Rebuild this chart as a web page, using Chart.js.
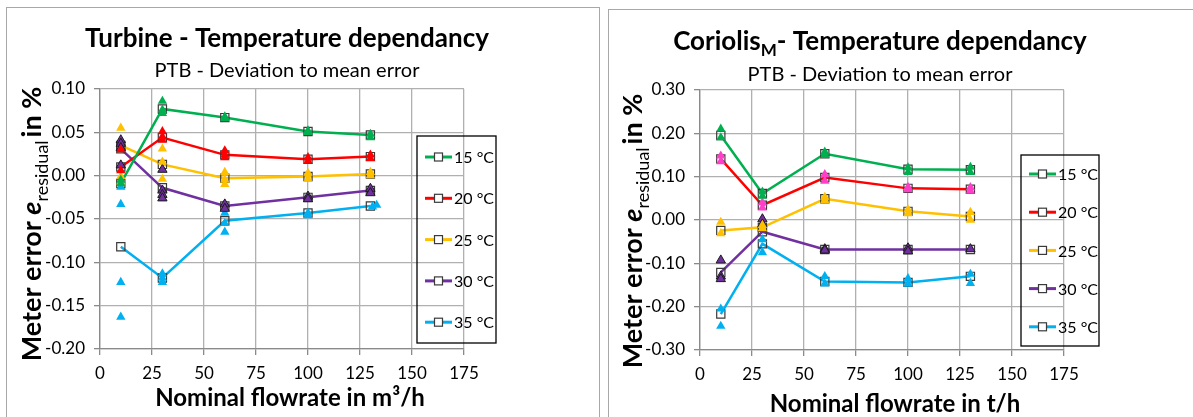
<!DOCTYPE html>
<html>
<head>
<meta charset="utf-8">
<script src="https://cdn.jsdelivr.net/npm/chart.js@4.4.1/dist/chart.umd.min.js"></script>
<style>
  body { margin: 0; background: #fff; width: 1193px; height: 417px; overflow: hidden; position: relative; }
  .panel { position: absolute; border: 1.5px solid #a8a8a8; border-bottom: none; height: 420px; }
  .wrap { position: absolute; }
</style>
</head>
<body>
<div class="panel" style="left:6px; top:7px; width:592px;"></div>
<div class="panel" style="left:608px; top:9px; width:600px;"></div>
<div class="wrap" style="left:8px; top:9px; width:592px; height:408px;"><canvas id="turbineChart"></canvas></div>
<div class="wrap" style="left:610px; top:11px; width:583px; height:406px;"><canvas id="coriolisChart"></canvas></div>
<script>
// flowrates and temperatures
var flowrates = [10, 30, 60, 100, 130];
var tempLabels = ["15 °C", "20 °C", "25 °C", "30 °C", "35 °C"];
var tempColors = ["#00B050", "#FF0000", "#FFC000", "#7030A0", "#00B0F0"];

// turbine - mean deviation per temperature
var turbine15 = [-0.009, 0.077, 0.067, 0.051, 0.047];
var turbine20 = [0.010, 0.044, 0.024, 0.019, 0.022];
var turbine25 = [0.035, 0.013, -0.003, -0.001, 0.002];
var turbine30 = [0.031, -0.014, -0.035, -0.025, -0.017];
var turbine35 = [-0.082, -0.118, -0.052, -0.043, -0.035];

// turbine - single runs [flowrate, deviation]
var turbineRuns15 = [[10, -0.005], [10, -0.009], [30, 0.086], [30, 0.076], [30, 0.072], [60, 0.068], [60, 0.066], [100, 0.052], [100, 0.050], [130, 0.048], [130, 0.044]];
var turbineRuns20 = [[10, 0.030], [10, 0.006], [30, 0.051], [30, 0.045], [30, 0.041], [60, 0.029], [60, 0.024], [60, 0.021], [100, 0.021], [100, 0.017], [130, 0.024], [130, 0.020]];
var turbineRuns25 = [[10, 0.055], [10, -0.001], [10, -0.007], [30, 0.031], [30, 0.016], [30, -0.004], [60, 0.004], [60, -0.005], [60, -0.010], [100, 0.003], [100, -0.004], [130, 0.004], [130, 0.000]];
var turbineRuns30 = [[10, 0.041], [10, 0.037], [10, 0.032], [10, 0.012], [30, 0.007], [30, -0.017], [30, -0.022], [30, -0.026], [60, -0.033], [60, -0.038], [100, -0.024], [100, -0.027], [130, -0.015], [130, -0.020]];
var turbineRuns35 = [[10, -0.013], [10, -0.033], [10, -0.123], [10, -0.163], [30, -0.113], [30, -0.118], [30, -0.123], [60, -0.043], [60, -0.055], [60, -0.065], [100, -0.043], [100, -0.046], [131, -0.036], [133, -0.034]];

// coriolis - mean deviation per temperature
var coriolis15 = [0.195, 0.061, 0.153, 0.117, 0.116];
var coriolis20 = [0.141, 0.034, 0.098, 0.073, 0.071];
var coriolis25 = [-0.024, -0.017, 0.049, 0.020, 0.008];
var coriolis30 = [-0.121, -0.027, -0.068, -0.068, -0.068];
var coriolis35 = [-0.217, -0.055, -0.142, -0.144, -0.130];

// coriolis - single runs [flowrate, deviation]
var coriolisRuns15 = [[10, 0.210], [10, 0.190], [30, 0.065], [30, 0.055], [60, 0.157], [60, 0.150], [100, 0.121], [100, 0.110], [130, 0.122], [130, 0.110]];
var coriolisRuns20 = [[10, 0.148], [10, 0.135], [30, 0.040], [30, 0.028], [60, 0.105], [60, 0.090], [100, 0.076], [100, 0.070], [130, 0.075], [130, 0.067]];
var coriolisRuns25 = [[10, -0.005], [10, -0.031], [30, -0.012], [30, -0.020], [60, 0.053], [60, 0.045], [100, 0.024], [100, 0.015], [130, 0.018], [130, 0.000]];
var coriolisRuns30 = [[10, -0.093], [10, -0.130], [10, -0.136], [30, 0.002], [30, -0.010], [60, -0.067], [60, -0.070], [100, -0.065], [100, -0.072], [130, -0.067]];
var coriolisRuns35 = [[10, -0.205], [10, -0.245], [30, -0.045], [30, -0.075], [60, -0.130], [60, -0.147], [100, -0.135], [100, -0.148], [130, -0.125], [130, -0.146]];

// axes
var xTicks = [0, 25, 50, 75, 100, 125, 150, 175];
var turbineYTicks = [-0.20, -0.15, -0.10, -0.05, 0.00, 0.05, 0.10];
var coriolisYTicks = [-0.30, -0.20, -0.10, 0.00, 0.10, 0.20, 0.30];

var FONT = "Lato";

function toPoints(values){
    return values.map(function(v, i){ return {x: flowrates[i], y: v}; });
}

function runPoints(runs){
    return runs.map(function(r){ return {x: r[0], y: r[1]}; });
}

function buildDatasets(means, runs, runColors){
    var sets = [];
    means.forEach(function(m, i){
        sets.push({
            label: tempLabels[i],
            data: toPoints(m),
            showLine: true,
            borderColor: tempColors[i],
            borderWidth: 2.5,
            pointStyle: "rect",
            pointRadius: 5.8,
            pointBackgroundColor: "rgba(255,255,255,0)",
            pointBorderColor: "#3a3a3a",
            pointBorderWidth: 1.2,
            order: 2,
            isMean: true
        });
    });
    runs.forEach(function(r, i){
        var purple = i == 3;
        sets.push({
            label: tempLabels[i] + " runs",
            data: runPoints(r),
            showLine: false,
            pointStyle: "triangle",
            pointRadius: 5.4,
            pointBackgroundColor: runColors[i],
            pointBorderColor: purple ? "#1a1a1a" : runColors[i],
            pointBorderWidth: purple ? 1 : 0,
            order: 1
        });
    });
    return sets;
}

// draws a row of text parts (with sub-scripts) centred on x
function drawParts(ctx, parts, x, y){
    var total = 0;
    parts.forEach(function(p){ ctx.font = p.font; total += ctx.measureText(p.t).width + (p.gap || 0); });
    var cx = x - total / 2;
    ctx.textAlign = "left";
    ctx.textBaseline = "alphabetic";
    ctx.fillStyle = "#000";
    parts.forEach(function(p){
        ctx.font = p.font;
        ctx.fillText(p.t, cx, y + (p.dy || 0));
        cx += ctx.measureText(p.t).width + (p.gap || 0);
    });
}

var decorPlugin = {
    id: "decor",
    afterDraw: function(chart){
        var o = chart.options.plugins.decor;
        var ctx = chart.ctx;
        ctx.save();
        drawParts(ctx, o.title, o.titleX, o.titleY);
        drawParts(ctx, [{t: "PTB - Deviation to mean error", font: "20px " + FONT}], o.titleX, o.subY);
        drawParts(ctx, [{t: o.xTitle, font: "bold 24px " + FONT}], o.xTitleX, o.xTitleY);

        ctx.save();
        ctx.translate(o.yTitleX, o.yTitleY);
        ctx.rotate(-Math.PI / 2);
        drawParts(ctx, [
            {t: "Meter error ", font: "bold 27px " + FONT},
            {t: "e", font: "italic bold 27px " + FONT},
            {t: "residual", font: "18px " + FONT, dy: 7, gap: 3},
            {t: "in %", font: "bold 27px " + FONT}
        ], 0, 0);
        ctx.restore();

        // legend box
        var L = o.legend;
        ctx.strokeStyle = "#000";
        ctx.lineWidth = 1.3;
        ctx.strokeRect(L.x, L.y, L.w, L.h);
        var means = chart.data.datasets.filter(function(d){ return d.isMean; });
        means.forEach(function(d, i){
            var ry = L.row0 + i * L.step;
            ctx.strokeStyle = d.borderColor;
            ctx.lineWidth = 3;
            ctx.beginPath();
            ctx.moveTo(L.x + 8, ry);
            ctx.lineTo(L.x + 35, ry);
            ctx.stroke();
            ctx.fillStyle = "#fff";
            ctx.fillRect(L.x + 17.5, ry - 4, 8, 8);
            ctx.strokeStyle = "#3a3a3a";
            ctx.lineWidth = 1.2;
            ctx.strokeRect(L.x + 17.5, ry - 4, 8, 8);
            ctx.fillStyle = "#000";
            ctx.font = "16px " + FONT;
            ctx.textAlign = "left";
            ctx.textBaseline = "middle";
            ctx.fillText(d.label, L.x + 37, ry + 1);
        });
        ctx.restore();
    }
};

function makeChart(id, datasets, yTicks, minorGrid, decor){
    var yMin = yTicks[0], yMax = yTicks[yTicks.length - 1];
    var yStep = minorGrid ? (yTicks[1] - yTicks[0]) / 2 : yTicks[1] - yTicks[0];
    function isMajor(v){
        return yTicks.some(function(t){ return Math.abs(t - v) < 1e-6; });
    }
    return new Chart(document.getElementById(id), {
        type: "scatter",
        data: {datasets: datasets},
        plugins: [decorPlugin],
        options: {
            responsive: true,
            maintainAspectRatio: false,
            animation: false,
            layout: {padding: {top: decor.top, right: decor.right, left: 0, bottom: 0}},
            plugins: {legend: {display: false}, tooltip: {enabled: false}, decor: decor},
            scales: {
                x: {
                    min: xTicks[0],
                    max: xTicks[xTicks.length - 1],
                    ticks: {stepSize: xTicks[1] - xTicks[0], color: "#000", font: {family: FONT, size: 17}, padding: 8},
                    grid: {color: "#b0b0b0", lineWidth: 1.3, tickLength: 6, tickColor: "#8a8a8a"},
                    border: {color: "#8a8a8a", width: 1.3},
                    afterFit: function(s){ s.height = decor.bottom; }
                },
                y: {
                    min: yMin,
                    max: yMax,
                    ticks: {
                        stepSize: yStep,
                        color: "#000",
                        font: {family: FONT, size: 17},
                        padding: 9,
                        callback: function(v){ return isMajor(v) ? v.toFixed(2) : ""; }
                    },
                    grid: {
                        color: function(c){ return isMajor(c.tick.value) ? "#b0b0b0" : "#dcdcdc"; },
                        lineWidth: 1.3,
                        tickLength: 6,
                        tickColor: function(c){ return isMajor(c.tick.value) ? "#8a8a8a" : "rgba(0,0,0,0)"; }
                    },
                    border: {color: "#8a8a8a", width: 1.3},
                    afterFit: function(s){ s.width = decor.left; }
                }
            }
        }
    });
}

makeChart("turbineChart",
    buildDatasets([turbine15, turbine20, turbine25, turbine30, turbine35],
        [turbineRuns15, turbineRuns20, turbineRuns25, turbineRuns30, turbineRuns35], tempColors),
    turbineYTicks, false,
    {
        top: 80, right: 136, left: 92, bottom: 68,
        title: [{t: "Turbine - Temperature dependancy", font: "bold 26px " + FONT}],
        titleX: 279, titleY: 38, subY: 68,
        xTitle: "Nominal flowrate in m³/h", xTitleX: 282, xTitleY: 397,
        yTitleX: 33, yTitleY: 215,
        legend: {x: 409, y: 127, w: 79, h: 207, row0: 148, step: 41.3}
    });

var coriolisRunColors = ["#00B050", "#FF3FC8", "#FFC000", "#7030A0", "#00B0F0"];
makeChart("coriolisChart",
    buildDatasets([coriolis15, coriolis20, coriolis25, coriolis30, coriolis35],
        [coriolisRuns15, coriolisRuns20, coriolisRuns25, coriolisRuns30, coriolisRuns35], coriolisRunColors),
    coriolisYTicks, true,
    {
        top: 79, right: 129, left: 90, bottom: 67,
        title: [
            {t: "Coriolis", font: "bold 26px " + FONT},
            {t: "M", font: "bold 17px " + FONT, dy: 6},
            {t: "- Temperature dependancy", font: "bold 26px " + FONT}
        ],
        titleX: 270, titleY: 39, subY: 70,
        xTitle: "Nominal flowrate in t/h", xTitleX: 285, xTitleY: 401,
        yTitleX: 32, yTitleY: 220,
        legend: {x: 411, y: 144, w: 78, h: 191, row0: 163, step: 38.2}
    });
</script>
</body>
</html>
